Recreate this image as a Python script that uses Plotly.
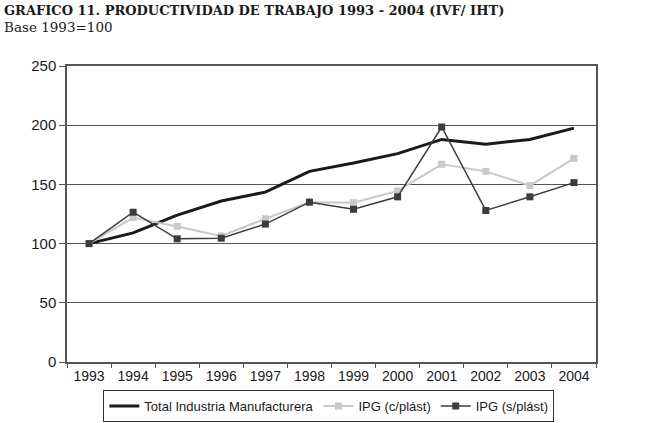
import plotly.graph_objects as go

years = ["1993", "1994", "1995", "1996", "1997", "1998", "1999", "2000", "2001", "2002", "2003", "2004"]
total_ind = [100, 109, 124, 136, 143.5, 161, 168, 176, 188, 184, 188, 197.5]
ipg_c_plast = [100, 122, 114.5, 106.5, 121, 135, 134.5, 144.5, 167, 161, 149, 172]
ipg_s_plast = [100, 126.5, 104, 104.5, 116.5, 135, 129, 139.5, 198.5, 128, 139.5, 151.5]
y_ticks = [0, 50, 100, 150, 200, 250]

fig = go.Figure()
fig.add_trace(go.Scatter(
    x=years, y=total_ind, name="Total Industria Manufacturera", mode="lines",
    line=dict(color="#1a1a1a", width=3)))
fig.add_trace(go.Scatter(
    x=years, y=ipg_c_plast, name="IPG (c/plást)", mode="lines+markers",
    line=dict(color="#c8c8c8", width=2),
    marker=dict(symbol="square", size=7, color="#c8c8c8")))
fig.add_trace(go.Scatter(
    x=years, y=ipg_s_plast, name="IPG (s/plást)", mode="lines+markers",
    line=dict(color="#3c3c3c", width=1.5),
    marker=dict(symbol="square", size=7, color="#3c3c3c")))

fig.update_layout(
    width=652, height=423,
    margin=dict(l=67, r=56, t=66, b=61, autoexpand=False),
    paper_bgcolor="white", plot_bgcolor="white",
    font=dict(family="Liberation Sans, Arial, sans-serif", color="#1a1a1a"),
    showlegend=True,
    legend=dict(orientation="h", x=0.495, xanchor="center",
                yref="container", y=0.078, yanchor="top",
                bordercolor="#333333", borderwidth=1, font=dict(size=13),
                itemwidth=30, tracegroupgap=0),
    xaxis=dict(type="category", showline=True, linecolor="#555555", linewidth=1.5,
               mirror=True, ticks="outside", ticklen=4, tickcolor="#555555",
               tickson="boundaries", showgrid=False, tickfont=dict(size=14),
               range=[-0.5, 11.5]),
    yaxis=dict(range=[0, 250], tickvals=y_ticks, showline=True, linecolor="#555555",
               linewidth=1.5, mirror=True, ticks="outside", ticklen=6,
               tickcolor="#555555", showgrid=True, gridcolor="#555555", gridwidth=1,
               tickfont=dict(size=15), zeroline=False),
    annotations=[
        dict(text="<b>GRAFICO 11. PRODUCTIVIDAD DE TRABAJO 1993 - 2004 (IVF/ IHT)</b>",
             xref="paper", yref="paper", x=-0.123, y=1.186, xanchor="left", yanchor="middle",
             showarrow=False, font=dict(family="DejaVu Serif, serif", size=13, color="#1a1a1a")),
        dict(text="Base 1993=100",
             xref="paper", yref="paper", x=-0.123, y=1.132, xanchor="left", yanchor="middle",
             showarrow=False, font=dict(family="DejaVu Serif, serif", size=13.5, color="#1a1a1a")),
    ],
)

fig.write_html("out.html", config={"displayModeBar": False},
               post_script="document.body.style.margin='0';")
